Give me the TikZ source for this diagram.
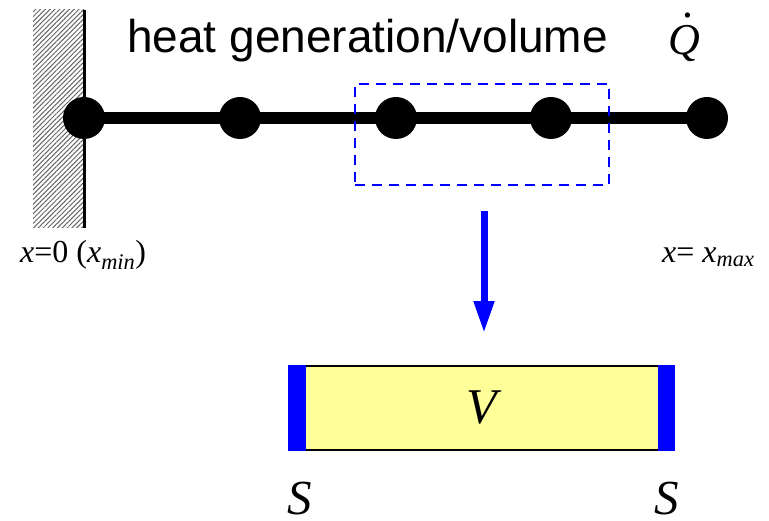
\documentclass[tikz,border=0pt]{standalone}
\usepackage{fontspec}
\setmainfont{Liberation Serif}
\newfontfamily\arialfont{Liberation Sans}
\usetikzlibrary{arrows.meta,patterns.meta}
\definecolor{paleyellow}{RGB}{255,255,153}
\tikzset{
  dot/.style={circle,fill=black,minimum size=42pt,inner sep=0pt},
  rod/.style={line width=12pt},
  coordlabel/.style={font=\fontsize{32}{36}\selectfont,inner sep=0pt},
  surf/.style={font=\fontsize{49}{52}\selectfont\itshape,inner sep=0pt,anchor=base}
}

\begin{document}
\begin{tikzpicture}[x=1pt,y=-1pt]
      \useasboundingbox (0,0) rectangle (769,521);
      % wall
      \fill[pattern={Lines[angle=45,distance=3.4pt,line width=1pt]},pattern color=black!60] (33,10) rectangle (84,228);
      \draw[line width=3pt] (84,10) -- (84,228);
      % rod with nodal points
      \node[dot] (n0) at (84,118) {};
      \node[dot] (n1) at (240,118) {};
      \node[dot] (n2) at (396,118) {};
      \node[dot] (n3) at (551,118) {};
      \node[dot] (n4) at (707,118) {};
      \draw[rod] (n0.center) -- (n4.center);
      \node[anchor=base west,inner sep=0pt,font=\arialfont\fontsize{46}{50}\selectfont] (title) at (127,53) {heat generation/volume};
      \node[anchor=base,inner sep=0pt,font=\fontsize{44}{48}\selectfont\itshape] (qdot) at (684,55) {\makebox[0pt][l]{\hspace{0.36em}\raisebox{0.86em}[0pt][0pt]{.}}Q};
      \node[coordlabel,anchor=base west] (xmin) at (20,263) {\textit{x}=0 (\textit{x}\textsubscript{\textit{min}})};
      \node[coordlabel,anchor=base west] (xmax) at (662,263) {\textit{x}= \textit{x}\textsubscript{\textit{max}}};
      % zoomed part
      \node[draw=blue,line width=2.5pt,dash pattern=on 10pt off 7pt,minimum width=254pt,minimum height=101pt] (zoom) at (482,134.5) {};
      \node[draw,line width=1.5pt,fill=paleyellow,minimum width=385pt,minimum height=84pt,font=\fontsize{50}{54}\selectfont\itshape] (vol) at (481.5,408) {V};
      \fill[blue] (vol.north west) rectangle ([xshift=18pt]vol.south west);
      \fill[blue] (vol.north east) rectangle ([xshift=-17pt]vol.south east);
      \draw[blue,line width=7pt,-{Triangle[length=32pt,width=19pt]}] ([xshift=2pt,yshift=-25pt]zoom.south) -- ([xshift=2.5pt,yshift=32pt]vol.north);
      \node[surf] (sl) at (300,514) {S};
      \node[surf] (sr) at (667,514) {S};
    \end{tikzpicture}
\end{document}
